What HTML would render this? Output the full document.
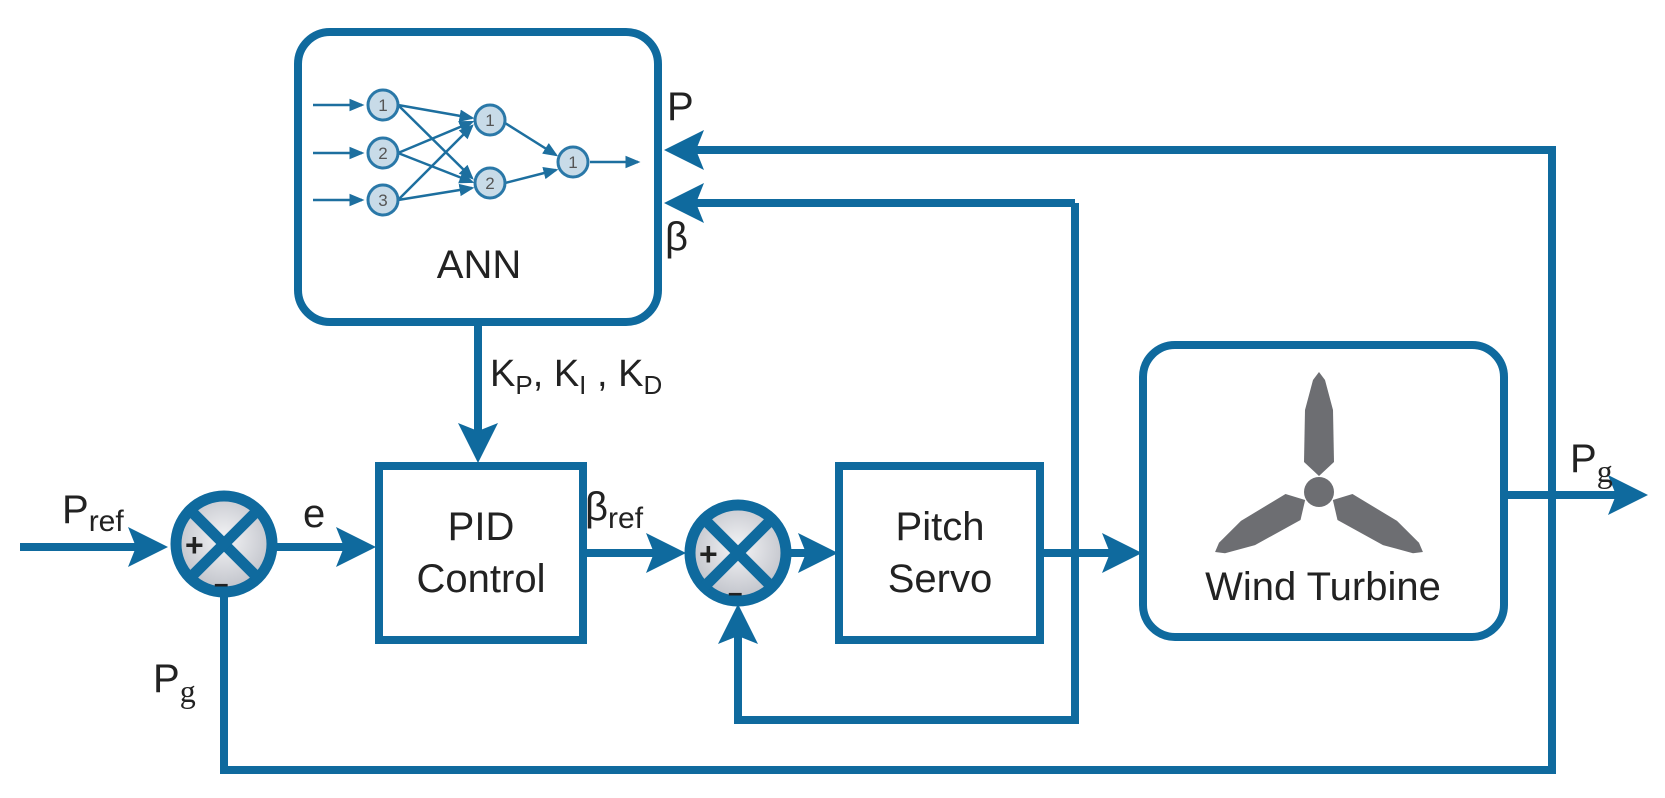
<!DOCTYPE html>
<html><head><meta charset="utf-8"><style>
html,body{margin:0;padding:0;background:#fff}
svg{display:block}
text{font-family:"Liberation Sans",sans-serif;fill:#222}
</style></head><body>
<svg width="1665" height="798" viewBox="0 0 1665 798" xmlns="http://www.w3.org/2000/svg">
<defs>
<radialGradient id="g" cx="50%" cy="45%" r="60%"><stop offset="0" stop-color="#f4f4f6"/><stop offset="1" stop-color="#b9bcc4"/></radialGradient>
<marker id="a" markerWidth="5" markerHeight="5" refX="4" refY="2.5" orient="auto" markerUnits="strokeWidth"><path d="M0,0 L5,2.5 L0,5 L1,2.5z" fill="#0f6a9e"/></marker>
<marker id="s" markerWidth="6" markerHeight="6" refX="5" refY="3" orient="auto" markerUnits="strokeWidth"><path d="M0,0.5 L6,3 L0,5.5z" fill="#1d6f9f"/></marker>
</defs>
<g stroke="#0f6a9e" stroke-width="8" fill="none">
<rect x="298" y="32" width="360" height="290" rx="32"/>
<rect x="379" y="466" width="204" height="174"/>
<rect x="839" y="466" width="201" height="174"/>
<rect x="1143" y="345" width="361" height="292" rx="32"/>
<polyline points="224,595 224,770 1552,770 1552,150 672,150" marker-end="url(#a)"/>
<polyline points="1075,203 672,203" marker-end="url(#a)"/>
<polyline points="1075,203 1075,720 738,720 738,612" marker-end="url(#a)"/>
<line x1="20" y1="547" x2="160" y2="547" marker-end="url(#a)"/>
<line x1="276" y1="547" x2="368" y2="547" marker-end="url(#a)"/>
<line x1="583" y1="553" x2="678" y2="553" marker-end="url(#a)"/>
<line x1="790" y1="553" x2="830" y2="553" marker-end="url(#a)"/>
<line x1="1040" y1="553" x2="1134" y2="553" marker-end="url(#a)"/>
<line x1="1504" y1="495" x2="1640" y2="495" marker-end="url(#a)"/>
<line x1="478" y1="322" x2="478" y2="455" marker-end="url(#a)"/>
</g>
<g stroke="#0f6a9e" stroke-width="11">
<circle cx="224" cy="544" r="48" fill="url(#g)"/>
<line x1="191" y1="511" x2="257" y2="577"/><line x1="257" y1="511" x2="191" y2="577"/>
<circle cx="738" cy="553" r="48" fill="url(#g)"/>
<line x1="705" y1="520" x2="771" y2="586"/><line x1="771" y1="520" x2="705" y2="586"/>
</g>
<g fill="#222" font-size="32" font-family="Liberation Sans,sans-serif" font-weight="bold">
<text x="185" y="556">+</text><text x="214" y="592" font-size="26">–</text>
<text x="699" y="565">+</text><text x="728" y="601" font-size="26">–</text>
</g>
<g stroke="#1d6f9f" stroke-width="2.5" fill="none">
<line x1="313" y1="105" x2="362" y2="105" marker-end="url(#s)"/>
<line x1="313" y1="153" x2="362" y2="153" marker-end="url(#s)"/>
<line x1="313" y1="200" x2="362" y2="200" marker-end="url(#s)"/>
<line x1="398" y1="105" x2="472" y2="118" marker-end="url(#s)"/>
<line x1="398" y1="105" x2="472" y2="178" marker-end="url(#s)"/>
<line x1="398" y1="153" x2="472" y2="122" marker-end="url(#s)"/>
<line x1="398" y1="153" x2="472" y2="182" marker-end="url(#s)"/>
<line x1="398" y1="200" x2="472" y2="126" marker-end="url(#s)"/>
<line x1="398" y1="200" x2="472" y2="188" marker-end="url(#s)"/>
<line x1="505" y1="123" x2="556" y2="155" marker-end="url(#s)"/>
<line x1="505" y1="183" x2="556" y2="170" marker-end="url(#s)"/>
<line x1="590" y1="162" x2="638" y2="162" marker-end="url(#s)"/>
</g>
<g stroke="#2a78a8" stroke-width="3" fill="#c8dbe8">
<circle cx="383" cy="105" r="15"/><circle cx="383" cy="153" r="15"/><circle cx="383" cy="200" r="15"/>
<circle cx="490" cy="120" r="15"/><circle cx="490" cy="183" r="15"/><circle cx="573" cy="162" r="15"/>
</g>
<g font-size="17" text-anchor="middle">
<text x="383" y="111" style="fill:#555">1</text><text x="383" y="159" style="fill:#555">2</text><text x="383" y="206" style="fill:#555">3</text>
<text x="490" y="126" style="fill:#555">1</text><text x="490" y="189" style="fill:#555">2</text><text x="573" y="168" style="fill:#555">1</text>
</g>
<g fill="#6d6e72">
<g id="b"><path d="M1319,476 L1304,462 L1305,410 L1313,380 L1319,372 L1325,380 L1333,410 L1334,462 Z"/></g>
<use href="#b" transform="rotate(120 1319 492)"/>
<use href="#b" transform="rotate(240 1319 492)"/>
<circle cx="1319" cy="492" r="15"/>
</g>
<g font-size="40">
<text x="479" y="278" text-anchor="middle">ANN</text>
<text x="481" y="540" text-anchor="middle">PID</text>
<text x="481" y="592" text-anchor="middle">Control</text>
<text x="940" y="540" text-anchor="middle">Pitch</text>
<text x="940" y="592" text-anchor="middle">Servo</text>
<text x="1323" y="600" text-anchor="middle">Wind Turbine</text>
<text x="667" y="120">P</text>
<text x="665" y="250" font-family="Liberation Serif,serif">β</text>
<text x="490" y="386" font-size="38">K<tspan font-size="26" dy="8">P</tspan><tspan dy="-8">, K</tspan><tspan font-size="26" dy="8">I</tspan><tspan dy="-8"> , K</tspan><tspan font-size="26" dy="8">D</tspan></text>
<text x="62" y="523">P<tspan font-size="30" dy="8">ref</tspan></text>
<text x="303" y="527" font-family="Liberation Serif,serif">e</text>
<text x="585" y="520" font-family="Liberation Serif,serif">β<tspan font-family="Liberation Sans,sans-serif" font-size="30" dy="8">ref</tspan></text>
<text x="153" y="692">P<tspan font-family="Liberation Serif,serif" font-size="32" dy="10">g</tspan></text>
<text x="1570" y="472">P<tspan font-family="Liberation Serif,serif" font-size="32" dy="10">g</tspan></text>
</g>
</svg>
</body></html>
